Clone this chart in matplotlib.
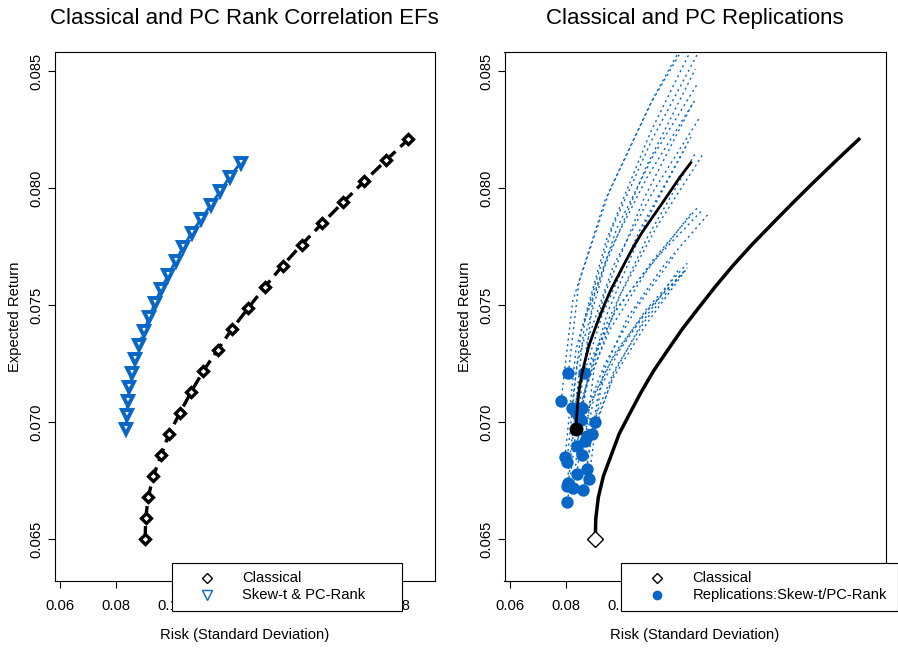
import matplotlib
matplotlib.use("Agg")
import matplotlib.pyplot as plt
from matplotlib.patches import Rectangle
from matplotlib.lines import Line2D

plt.rcParams["font.family"] = ["Liberation Sans", "DejaVu Sans"]

BLUE = "#0766C6"

# efficient frontier: classical (mean-variance)
classical_risk = [0.0904, 0.0906, 0.0915, 0.0933, 0.0961, 0.0989, 0.1028, 0.1068, 0.1112, 0.1163,
                  0.1215, 0.1273, 0.1332, 0.1395, 0.1463, 0.1536, 0.1610, 0.1686, 0.1764, 0.1844]
classical_ret = [0.0650, 0.0659, 0.0668, 0.0677, 0.0686, 0.0695, 0.0704, 0.0713, 0.0722, 0.0731,
                 0.0740, 0.0749, 0.0758, 0.0767, 0.0776, 0.0785, 0.0794, 0.0803, 0.0812, 0.0821]

# efficient frontier: skew-t & PC rank correlation
skewt_risk = [0.0835, 0.0838, 0.0842, 0.0848, 0.0857, 0.0869, 0.0882, 0.0900, 0.0919, 0.0939,
              0.0961, 0.0987, 0.1013, 0.1040, 0.1070, 0.1104, 0.1139, 0.1173, 0.1207, 0.1245]
skewt_ret = [0.0697, 0.0703, 0.0709, 0.0715, 0.0721, 0.0727, 0.0733, 0.0739, 0.0745, 0.0751,
             0.0757, 0.0763, 0.0769, 0.0775, 0.0781, 0.0787, 0.0793, 0.0799, 0.0805, 0.0811]

# replicated frontiers (risk, return), first point = min-variance portfolio
rep_risk = [
    [0.0782, 0.0824, 0.0939, 0.1104, 0.1300],
    [0.0808, 0.0846, 0.0952, 0.1105, 0.1290],
    [0.0796, 0.0835, 0.0944, 0.1101, 0.1290],
    [0.0803, 0.0839, 0.0939, 0.1085, 0.1261],
    [0.0820, 0.0854, 0.0950, 0.1090, 0.1261],
    [0.0808, 0.0842, 0.0938, 0.1079, 0.1250],
    [0.0805, 0.0841, 0.0940, 0.1085, 0.1261],
    [0.0803, 0.0836, 0.0929, 0.1066, 0.1232],
    [0.0826, 0.0858, 0.0948, 0.1082, 0.1245],
    [0.0864, 0.0895, 0.0981, 0.1111, 0.1270],
    [0.0856, 0.0889, 0.0982, 0.1120, 0.1288],
    [0.0853, 0.0885, 0.0974, 0.1107, 0.1270],
    [0.0904, 0.0934, 0.1020, 0.1148, 0.1307],
    [0.0874, 0.0901, 0.0976, 0.1090, 0.1232],
    [0.0892, 0.0916, 0.0986, 0.1092, 0.1225],
    [0.0838, 0.0869, 0.0958, 0.1089, 0.1250],
    [0.0856, 0.0884, 0.0964, 0.1084, 0.1232],
    [0.0874, 0.0899, 0.0971, 0.1079, 0.1215],
    [0.0838, 0.0864, 0.0938, 0.1051, 0.1190],
    [0.0862, 0.0890, 0.0968, 0.1086, 0.1232],
    [0.0868, 0.0900, 0.0991, 0.1125, 0.1290],
    [0.0843, 0.0876, 0.0969, 0.1107, 0.1275],
    [0.0882, 0.0905, 0.0971, 0.1073, 0.1200],
    [0.0832, 0.0867, 0.0964, 0.1107, 0.1280],
]
rep_ret = [
    [0.0709, 0.0752, 0.0795, 0.0837, 0.0880],
    [0.0721, 0.0760, 0.0798, 0.0837, 0.0875],
    [0.0685, 0.0731, 0.0778, 0.0824, 0.0870],
    [0.0683, 0.0725, 0.0767, 0.0809, 0.0851],
    [0.0706, 0.0739, 0.0772, 0.0805, 0.0838],
    [0.0674, 0.0715, 0.0755, 0.0796, 0.0836],
    [0.0666, 0.0703, 0.0741, 0.0778, 0.0815],
    [0.0673, 0.0710, 0.0746, 0.0783, 0.0819],
    [0.0672, 0.0710, 0.0747, 0.0785, 0.0822],
    [0.0721, 0.0752, 0.0783, 0.0814, 0.0845],
    [0.0706, 0.0727, 0.0749, 0.0770, 0.0791],
    [0.0701, 0.0724, 0.0747, 0.0769, 0.0792],
    [0.0700, 0.0722, 0.0745, 0.0767, 0.0789],
    [0.0694, 0.0712, 0.0730, 0.0748, 0.0766],
    [0.0695, 0.0713, 0.0730, 0.0748, 0.0765],
    [0.0690, 0.0715, 0.0740, 0.0765, 0.0790],
    [0.0686, 0.0707, 0.0727, 0.0748, 0.0768],
    [0.0680, 0.0701, 0.0722, 0.0743, 0.0764],
    [0.0678, 0.0702, 0.0725, 0.0749, 0.0772],
    [0.0671, 0.0695, 0.0719, 0.0742, 0.0766],
    [0.0692, 0.0723, 0.0754, 0.0784, 0.0815],
    [0.0703, 0.0735, 0.0767, 0.0798, 0.0830],
    [0.0676, 0.0698, 0.0721, 0.0743, 0.0765],
    [0.0705, 0.0744, 0.0783, 0.0821, 0.0860],
]

xticks = [0.06, 0.08, 0.10, 0.12, 0.14, 0.16, 0.18]
yticks = [0.065, 0.070, 0.075, 0.080, 0.085]

FS = 10.6
W, H = 898, 648
fig = plt.figure(figsize=(W / 100, H / 100), dpi=100)
ax1 = fig.add_axes([54.5 / W, 1 - 581 / H, 380.5 / W, 529 / H])
ax2 = fig.add_axes([504.5 / W, 1 - 581 / H, 381 / W, 529 / H])


def style_axes(ax, title):
    ax.set_xlim(0.05804, 0.1939)
    ax.set_ylim(0.06322, 0.08583)
    ax.set_xticks(xticks)
    ax.set_xticklabels(["%.2f" % v for v in xticks])
    ax.set_yticks(yticks)
    ax.set_yticklabels(["%.3f" % v for v in yticks], rotation=90, va="center")
    ax.tick_params(direction="out", length=5, width=0.8, labelsize=FS, color="black")
    ax.tick_params(axis="x", pad=8)
    ax.tick_params(axis="y", pad=3)
    for s in ax.spines.values():
        s.set_linewidth(0.8)
    ax.set_xlabel("Risk (Standard Deviation)", fontsize=FS, labelpad=11)
    ax.set_ylabel("Expected Return", fontsize=FS, labelpad=5)
    ax.set_title(title, fontsize=16, pad=20)


# left panel
ax1.plot(classical_risk, classical_ret, color="black", lw=2.4, ls=(0, (4, 2)),
         marker="D", ms=5.5, mfc="white", mec="black", mew=2.4)
ax1.plot(skewt_risk, skewt_ret, color=BLUE, lw=2.0, ls=(0, (4, 2)),
         marker="v", ms=7, mfc="white", mec=BLUE, mew=2.8)
style_axes(ax1, "Classical and PC Rank Correlation EFs")

# right panel
for rx, ry in zip(rep_risk, rep_ret):
    ax2.plot(rx, ry, color=BLUE, lw=1.0, ls=(0, (1.5, 2.5)))
ax2.scatter([r[0] for r in rep_risk], [r[0] for r in rep_ret], s=80, color=BLUE, zorder=3, lw=0)
ax2.plot(skewt_risk, skewt_ret, color="black", lw=2.0, zorder=4)
ax2.scatter([skewt_risk[0]], [skewt_ret[0]], s=100, color="black", zorder=5, lw=0)
ax2.plot(classical_risk, classical_ret, color="black", lw=2.5, zorder=4)
ax2.plot([classical_risk[0]], [classical_ret[0]], marker="D", ms=8, mfc="white",
         mec="black", mew=1.0, zorder=6)
style_axes(ax2, "Classical and PC Replications")


def legend_box(x0, x1, marker_x, text_x, entries):
    top, bottom = 562.5, 611
    fig.add_artist(Rectangle((x0 / W, 1 - bottom / H), (x1 - x0) / W, (bottom - top) / H,
                             transform=fig.transFigure, facecolor="white",
                             edgecolor="black", lw=0.8, zorder=10))
    for i, (label, mk) in enumerate(entries):
        yy = 1 - (578 + 16.6 * i) / H
        fig.add_artist(Line2D([marker_x / W], [yy], transform=fig.transFigure, zorder=11, **mk))
        fig.text(text_x / W, yy, label, fontsize=FS, va="center", ha="left", zorder=11)


legend_box(172, 402, 206.5, 242.5, [
    ("Classical", dict(marker="D", ms=5, mfc="white", mec="black", mew=1.0, ls="none")),
    ("Skew-t & PC-Rank", dict(marker="v", ms=7, mfc="white", mec=BLUE, mew=1.0, ls="none")),
])
legend_box(621, 897.5, 656.5, 692.5, [
    ("Classical", dict(marker="D", ms=5, mfc="white", mec="black", mew=1.0, ls="none")),
    ("Replications:Skew-t/PC-Rank", dict(marker="o", ms=7, mfc=BLUE, mec=BLUE, mew=0, ls="none")),
])

fig.savefig("out.png", dpi=100)
